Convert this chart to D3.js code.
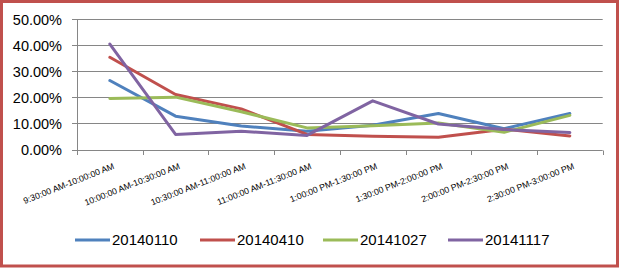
<!DOCTYPE html>
<html><head><meta charset="utf-8">
<script src="https://cdn.jsdelivr.net/npm/d3@7"></script>
<style>body{margin:0;background:#fff;}svg{display:block;}</style>
</head><body>
<script>
const categories = ["9:30:00 AM-10:00:00 AM","10:00:00 AM-10:30:00 AM","10:30:00 AM-11:00:00 AM","11:00:00 AM-11:30:00 AM","1:00:00 PM-1:30:00 PM","1:30:00 PM-2:00:00 PM","2:00:00 PM-2:30:00 PM","2:30:00 PM-3:00:00 PM"];
const seriesNames = ["20140110","20140410","20141027","20141117"];
const s20140110 = [0.265,0.128,0.090,0.070,0.093,0.138,0.080,0.138];
const s20140410 = [0.354,0.211,0.156,0.058,0.051,0.047,0.078,0.052];
const s20141027 = [0.196,0.201,0.145,0.083,0.091,0.102,0.066,0.131];
const s20141117 = [0.405,0.058,0.070,0.054,0.187,0.098,0.077,0.065];
const yTicks = [0,0.1,0.2,0.3,0.4,0.5];
const colors = ["#4F81BD","#C0504D","#9BBB59","#8064A2"];
const seriesValues = [s20140110,s20140410,s20141027,s20141117];

const W=623,H=269;
const svg=d3.select("body").append("svg").attr("width",W).attr("height",H);
svg.append("rect").attr("width",W).attr("height",H).attr("fill","#fff");
svg.append("rect").attr("x",1.5).attr("y",1.5).attr("width",616).attr("height",264.5)
  .attr("fill","none").attr("stroke","#C0504D").attr("stroke-width",3);

const x0=77,x1=602.7,yTop=19.3,yBot=149.5;
const x=d3.scaleBand().domain(categories).range([x0,x1]).padding(0);
const y=d3.scaleLinear().domain([0,0.5]).range([yBot,yTop]);
const font="'Liberation Sans', Arial, sans-serif";

// gridlines
svg.append("g").selectAll("line").data(yTicks).join("line")
  .attr("x1",x0-5).attr("x2",x1).attr("y1",d=>Math.round(y(d))+0.5).attr("y2",d=>Math.round(y(d))+0.5)
  .attr("stroke","#868686").attr("stroke-width",1);
// y axis line
svg.append("line").attr("x1",x0+0.5).attr("x2",x0+0.5).attr("y1",y(0.5)).attr("y2",yBot+1)
  .attr("stroke","#868686");
// y labels
svg.append("g").selectAll("text").data(yTicks).join("text")
  .attr("x",62).attr("y",d=>y(d)).attr("dy","0.36em").attr("text-anchor","end")
  .attr("font-family",font).attr("font-size",14.5).attr("fill","#000")
  .text(d=>d3.format(".2%")(d));
// x ticks
const bounds=categories.map(c=>x(c)).concat([x1]);
svg.append("g").selectAll("line").data(bounds).join("line")
  .attr("x1",d=>Math.round(d)+0.5).attr("x2",d=>Math.round(d)+0.5)
  .attr("y1",Math.round(yBot)+0.5).attr("y2",Math.round(yBot)+5)
  .attr("stroke","#868686");
// x labels
svg.append("g").selectAll("text").data(categories).join("text")
  .attr("transform",d=>`translate(${x(d)+x.bandwidth()/2+5},${yBot+19}) rotate(-21.5)`)
  .attr("text-anchor","end").attr("font-family",font).attr("font-size",8.8).attr("fill","#000")
  .text(d=>d);

// lines
const line=d3.line().x((d,i)=>x(categories[i])+x.bandwidth()/2).y(d=>y(d));
svg.append("g").selectAll("path").data(seriesValues).join("path")
  .attr("d",d=>line(d)).attr("fill","none").attr("stroke",(d,i)=>colors[i])
  .attr("stroke-width",3).attr("stroke-linejoin","round").attr("stroke-linecap","round");

// legend
const legX=[75,200,323,448];
const lg=svg.append("g").selectAll("g").data(seriesNames).join("g")
  .attr("transform",(d,i)=>`translate(${legX[i]},240)`);
lg.append("line").attr("x1",0).attr("x2",35).attr("y1",0).attr("y2",0)
  .attr("stroke",(d,i)=>colors[i]).attr("stroke-width",3);
lg.append("text").attr("x",37).attr("y",0).attr("dy","0.36em")
  .attr("font-family",font).attr("font-size",15).attr("fill","#000").text(d=>d);
</script>
</body></html>
